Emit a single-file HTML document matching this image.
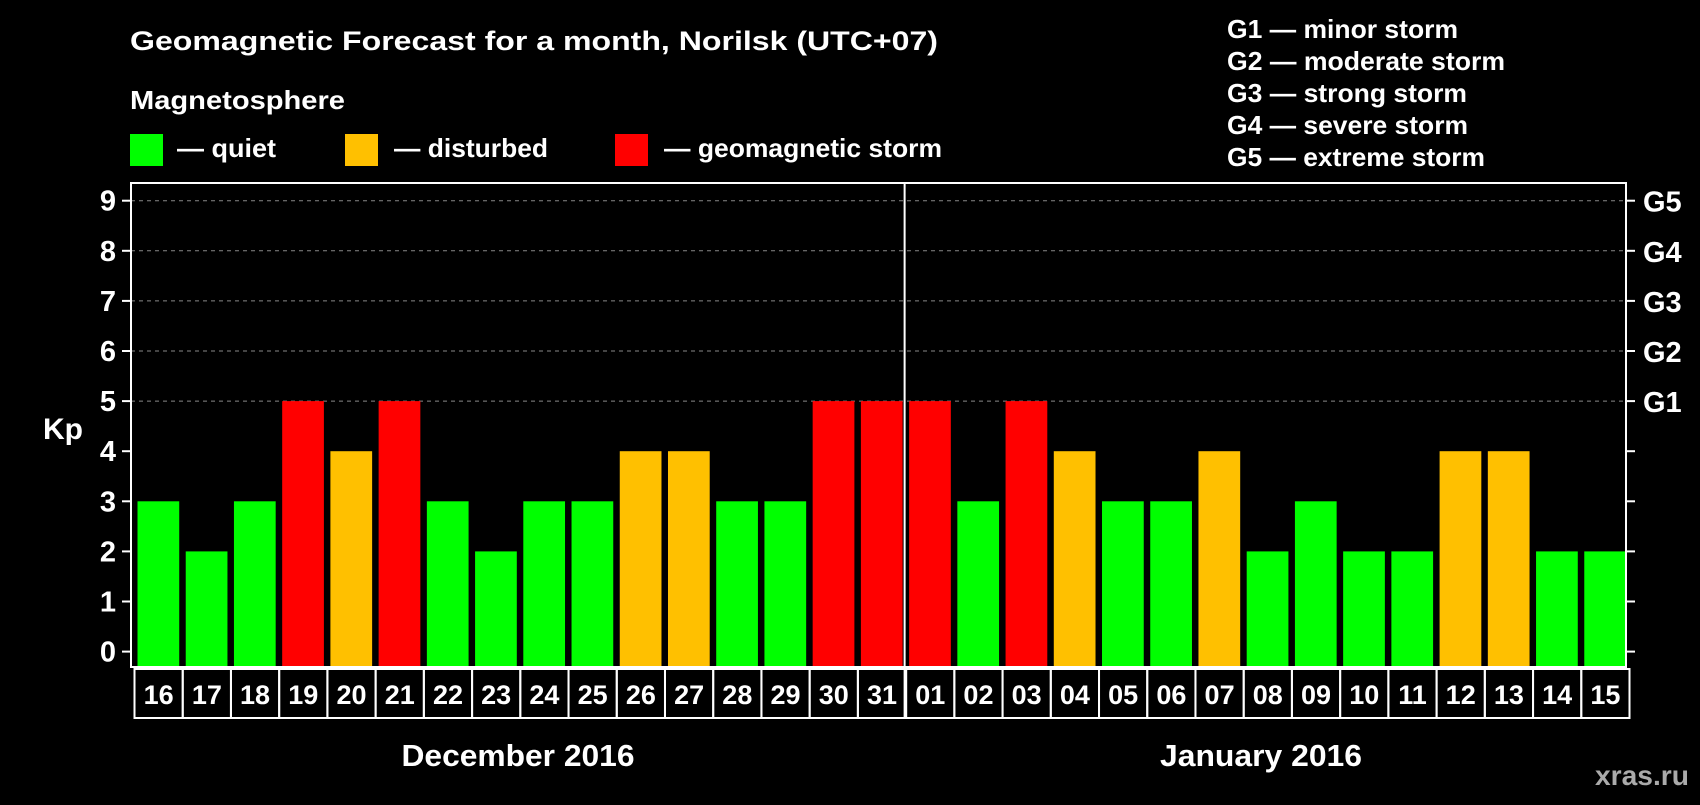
<!DOCTYPE html>
<html><head><meta charset="utf-8"><style>
html,body{margin:0;padding:0;background:#000;}
svg text{font-family:"Liberation Sans",Arial,sans-serif;font-weight:bold;fill:#fff;}
</style></head><body>
<svg id="chart" width="1700" height="800" viewBox="0 0 1700 800" xmlns="http://www.w3.org/2000/svg">
<rect width="1700" height="800" fill="#000"/>
<text x="130" y="50" font-size="27" textLength="808" lengthAdjust="spacingAndGlyphs">Geomagnetic Forecast for a month, Norilsk (UTC+07)</text>
<text x="130" y="109" font-size="26" textLength="215" lengthAdjust="spacingAndGlyphs">Magnetosphere</text>
<g><rect x="130" y="134" width="33" height="32" fill="#00ff00"/><text x="177" y="157" font-size="26" textLength="99" lengthAdjust="spacingAndGlyphs">— quiet</text></g>
<g><rect x="345" y="134" width="33" height="32" fill="#ffc000"/><text x="394" y="157" font-size="26" textLength="154" lengthAdjust="spacingAndGlyphs">— disturbed</text></g>
<g><rect x="615" y="134" width="33" height="32" fill="#ff0000"/><text x="664" y="157" font-size="26" textLength="278" lengthAdjust="spacingAndGlyphs">— geomagnetic storm</text></g>
<g font-size="26">
<text x="1227" y="38" textLength="231" lengthAdjust="spacingAndGlyphs">G1 — minor storm</text>
<text x="1227" y="70" textLength="278" lengthAdjust="spacingAndGlyphs">G2 — moderate storm</text>
<text x="1227" y="102" textLength="240" lengthAdjust="spacingAndGlyphs">G3 — strong storm</text>
<text x="1227" y="134" textLength="241" lengthAdjust="spacingAndGlyphs">G4 — severe storm</text>
<text x="1227" y="166" textLength="258" lengthAdjust="spacingAndGlyphs">G5 — extreme storm</text>
</g>
<text x="43" y="439" font-size="30">Kp</text>
<g id="grid"></g><g id="bars"></g><g id="axes"></g>
<text x="518" y="766" font-size="31" text-anchor="middle" textLength="233" lengthAdjust="spacingAndGlyphs">December 2016</text>
<text x="1261" y="766" font-size="31" text-anchor="middle" textLength="202" lengthAdjust="spacingAndGlyphs">January 2016</text>
<text x="1689" y="785" font-size="28" text-anchor="end" style="fill:#aaa" textLength="94" lengthAdjust="spacingAndGlyphs">xras.ru</text>
</svg>
<script>
const days=["16","17","18","19","20","21","22","23","24","25","26","27","28","29","30","31","01","02","03","04","05","06","07","08","09","10","11","12","13","14","15"];
const kpValues=[3,2,3,5,4,5,3,2,3,3,4,4,3,3,5,5,5,3,5,4,3,3,4,2,3,2,2,4,4,2,2];
const yTicks=[0,1,2,3,4,5,6,7,8,9];
const gLabels=["","","","","","G1","G2","G3","G4","G5"];
const NS="http://www.w3.org/2000/svg";
const L=131,R=1626,T=183,B=667,Y0=651.6,UNIT=50.1,BOXH=49;
const step=(R-L)/days.length;
function y(v){return Y0-v*UNIT;}
function x(i){return L+i*step;}
function mk(tag,attrs,parent){const e=document.createElementNS(NS,tag);for(const k in attrs)e.setAttribute(k,attrs[k]);parent.appendChild(e);return e;}
function color(v){return v>=5?"#ff0000":v>=4?"#ffc000":"#00ff00";}
const grid=document.getElementById("grid"),bars=document.getElementById("bars"),axes=document.getElementById("axes");
yTicks.forEach((t,i)=>{
  if(t>=5){const g=mk("line",{x1:L,x2:R,y1:y(t),y2:y(t),stroke:"#888","stroke-dasharray":"4,4","stroke-width":1},grid);
  
  }
  mk("line",{x1:L-9,x2:L,y1:y(t),y2:y(t),stroke:"#fff","stroke-width":2},axes);
  mk("line",{x1:R,x2:R+9,y1:y(t),y2:y(t),stroke:"#fff","stroke-width":2},axes);
  const tl=mk("text",{x:L-15,y:y(t)+10,"font-size":29,"text-anchor":"end"},axes);tl.textContent=t;
  
  
  if(gLabels[i]){const gl=mk("text",{x:R+17,y:y(t)+11,"font-size":29},axes);gl.textContent=gLabels[i];
  
  }
});
kpValues.forEach((v,i)=>{
  const b=mk("rect",{x:x(i)+6.5,y:y(v),width:step-6.5,height:B-y(v),fill:color(v)},bars);
  
  
  const c=mk("rect",{x:x(i)+3.5,y:B+2,width:step,height:BOXH,fill:"none",stroke:"#fff","stroke-width":2},axes);
  
  
  const t=mk("text",{x:x(i)+3.5+step/2,y:B+37,"font-size":27,"text-anchor":"middle"},axes);t.textContent=days[i];
  
  
});
const fr=mk("rect",{x:L,y:T,width:R-L,height:B-T,fill:"none",stroke:"#fff","stroke-width":2},axes);


const d=mk("line",{x1:x(16)+2,x2:x(16)+2,y1:T,y2:B+2+BOXH,stroke:"#fff","stroke-width":2},axes);


</script>
</body></html>
